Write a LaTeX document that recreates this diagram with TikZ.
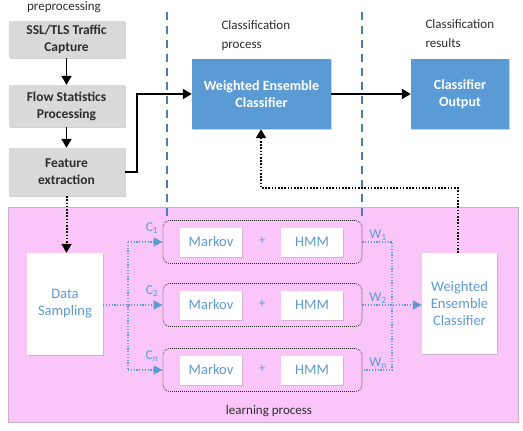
\documentclass[tikz,border=0pt]{standalone}
\usepackage{fontspec}
\setmainfont{Carlito}
\usetikzlibrary{arrows.meta,shadows}
\definecolor{pinkbg}{RGB}{250,198,250}
\definecolor{pinkline}{RGB}{205,175,205}
\definecolor{grayfill}{RGB}{217,217,217}
\definecolor{bluefill}{RGB}{91,155,213}
\definecolor{bluetext}{RGB}{95,155,210}
\definecolor{dashblue}{RGB}{75,125,175}
\definecolor{darktext}{RGB}{45,45,45}
\begin{document}
\begin{tikzpicture}[x=1pt,y=-1pt,
  graybox/.style={draw=none,fill=grayfill,minimum width=116pt,align=center,
    font=\fontsize{13.5}{17}\selectfont\bfseries,text=darktext,
    drop shadow={shadow xshift=1.2pt,shadow yshift=-1.2pt,opacity=0.35}},
  bluebox/.style={draw=none,fill=bluefill,align=center,minimum height=70pt,
    font=\fontsize{14}{17}\selectfont\bfseries,text=white,
    drop shadow={shadow xshift=1.2pt,shadow yshift=-1.2pt,opacity=0.35}},
  whitebox/.style={draw=none,fill=white,align=center,text=bluetext,
    font=\fontsize{14.5}{17}\selectfont,
    drop shadow={shadow xshift=1.2pt,shadow yshift=-1.2pt,opacity=0.3}},
  group/.style={draw=black!85,line width=0.8pt,dash pattern=on 0.8pt off 1.2pt,rounded corners=7pt,minimum width=199pt,minimum height=43pt},
  lbl/.style={font=\fontsize{13}{19}\selectfont,text=darktext,align=left},
  sublbl/.style={font=\fontsize{13.5}{15}\selectfont,text=bluetext},
  mainarrow/.style={line width=1.9pt,-{Triangle[length=9pt,width=10pt]}},
  blackdot/.style={line width=2pt,dash pattern=on 1.6pt off 1.6pt,-{Triangle[length=9pt,width=10pt]}},
  bluedot/.style={line width=1.2pt,bluetext,dash pattern=on 1.2pt off 1.6pt},
  bluedotarrow/.style={bluedot,-{Triangle[length=9pt,width=9pt]}},
  vdash/.style={dashblue,line width=1.3pt,dash pattern=on 8pt off 6pt}
]
\useasboundingbox (0,0) rectangle (523,431);
\fill[white] (0,0) rectangle (523,431);

% learning region
\draw[fill=pinkbg,draw=pinkline,line width=0.8pt] (8,207) rectangle (518,422);

% vertical dashed separators
\draw[vdash] (167,12) -- (167,216);
\draw[vdash] (362,12) -- (362,216);

% labels
\node[lbl] (lpre) at (64,7) {preprocessing};
\node[lbl,anchor=north west] (lcp) at (218,17) {Classification\\process};
\node[lbl,anchor=north west] (lcr) at (422,16) {Classification\\results};
\node[lbl] (llp) at (269,411) {learning process};

% preprocessing boxes
\node[graybox,minimum height=37pt] (ssl) at (66.5,39.5) {SSL/TLS Traffic\\Capture};
\node[graybox,minimum height=42pt] (flow) at (66.5,106) {Flow Statistics\\Processing};
\node[graybox,minimum height=48pt] (feat) at (66.5,172) {Feature\\extraction};

% classification boxes
\node[bluebox,minimum width=139pt] (wec) at (261.5,94) {Weighted Ensemble\\Classifier};
\node[bluebox,minimum width=98pt] (out) at (460,94) {Classifier\\Output};

% main arrows
\draw[mainarrow] (ssl) -- (flow);
\draw[mainarrow] (flow) -- (feat);
\coordinate (fx) at (137,172);
\draw[mainarrow] (feat.east) -- (fx) |- (wec.west);
\draw[mainarrow] (wec) -- (out);

% learning boxes
\node[whitebox,minimum width=76pt,minimum height=102pt] (ds) at (65,304) {Data\\Sampling};
\node[whitebox,minimum width=75pt,minimum height=101pt] (lwec) at (459.5,303.5) {Weighted\\Ensemble\\Classifier};

\foreach \i/\y/\cl/\wl in {1/242/C\textsubscript{1}/W\textsubscript{1},2/305/C\textsubscript{2}/W\textsubscript{2},3/370/C\textsubscript{n}/W\textsubscript{n}}{
  \node[group] (g\i) at (262.5,\y) {};
  \node[whitebox,minimum width=62pt,minimum height=29pt] (m\i) at (211,\y) {Markov};
  \node[whitebox,minimum width=62pt,minimum height=29pt] (h\i) at (312,\y) {HMM};
  \node[text=bluetext,font=\fontsize{13}{15}\selectfont] (p\i) at (262,\y-1) {+};
  \node[sublbl] (c\i) at (152,\y-14) {\cl};
  \node[sublbl] (w\i) at (378,\y-7) {\wl};
}

% blue dotted branching
\coordinate (bl1) at (128,242);
\coordinate (bl3) at (128,370);
\coordinate (br1) at (392,242);
\coordinate (br3) at (392,370);
\draw[bluedotarrow] (ds.east |- g2.west) -- (g2.west);
\draw[bluedot] (bl1) -- (bl3);
\draw[bluedotarrow] (bl1) -- (g1.west);
\draw[bluedotarrow] (bl3) -- (g3.west);
\draw[bluedot] (g1.east) -- (br1) -- (br3) -- (g3.east);
\draw[bluedotarrow] (g2.east) -- (lwec.west |- g2.east);

% black dotted connectors
\draw[blackdot] (feat.south) -- (feat.south |- ds.north);
\coordinate (up1) at (458,188);
\coordinate (up2) at (261,188);
\draw[blackdot] (lwec.north -| up1) -- (up1) -- (up2) -- (wec.south -| up2);
\end{tikzpicture}
\end{document}
